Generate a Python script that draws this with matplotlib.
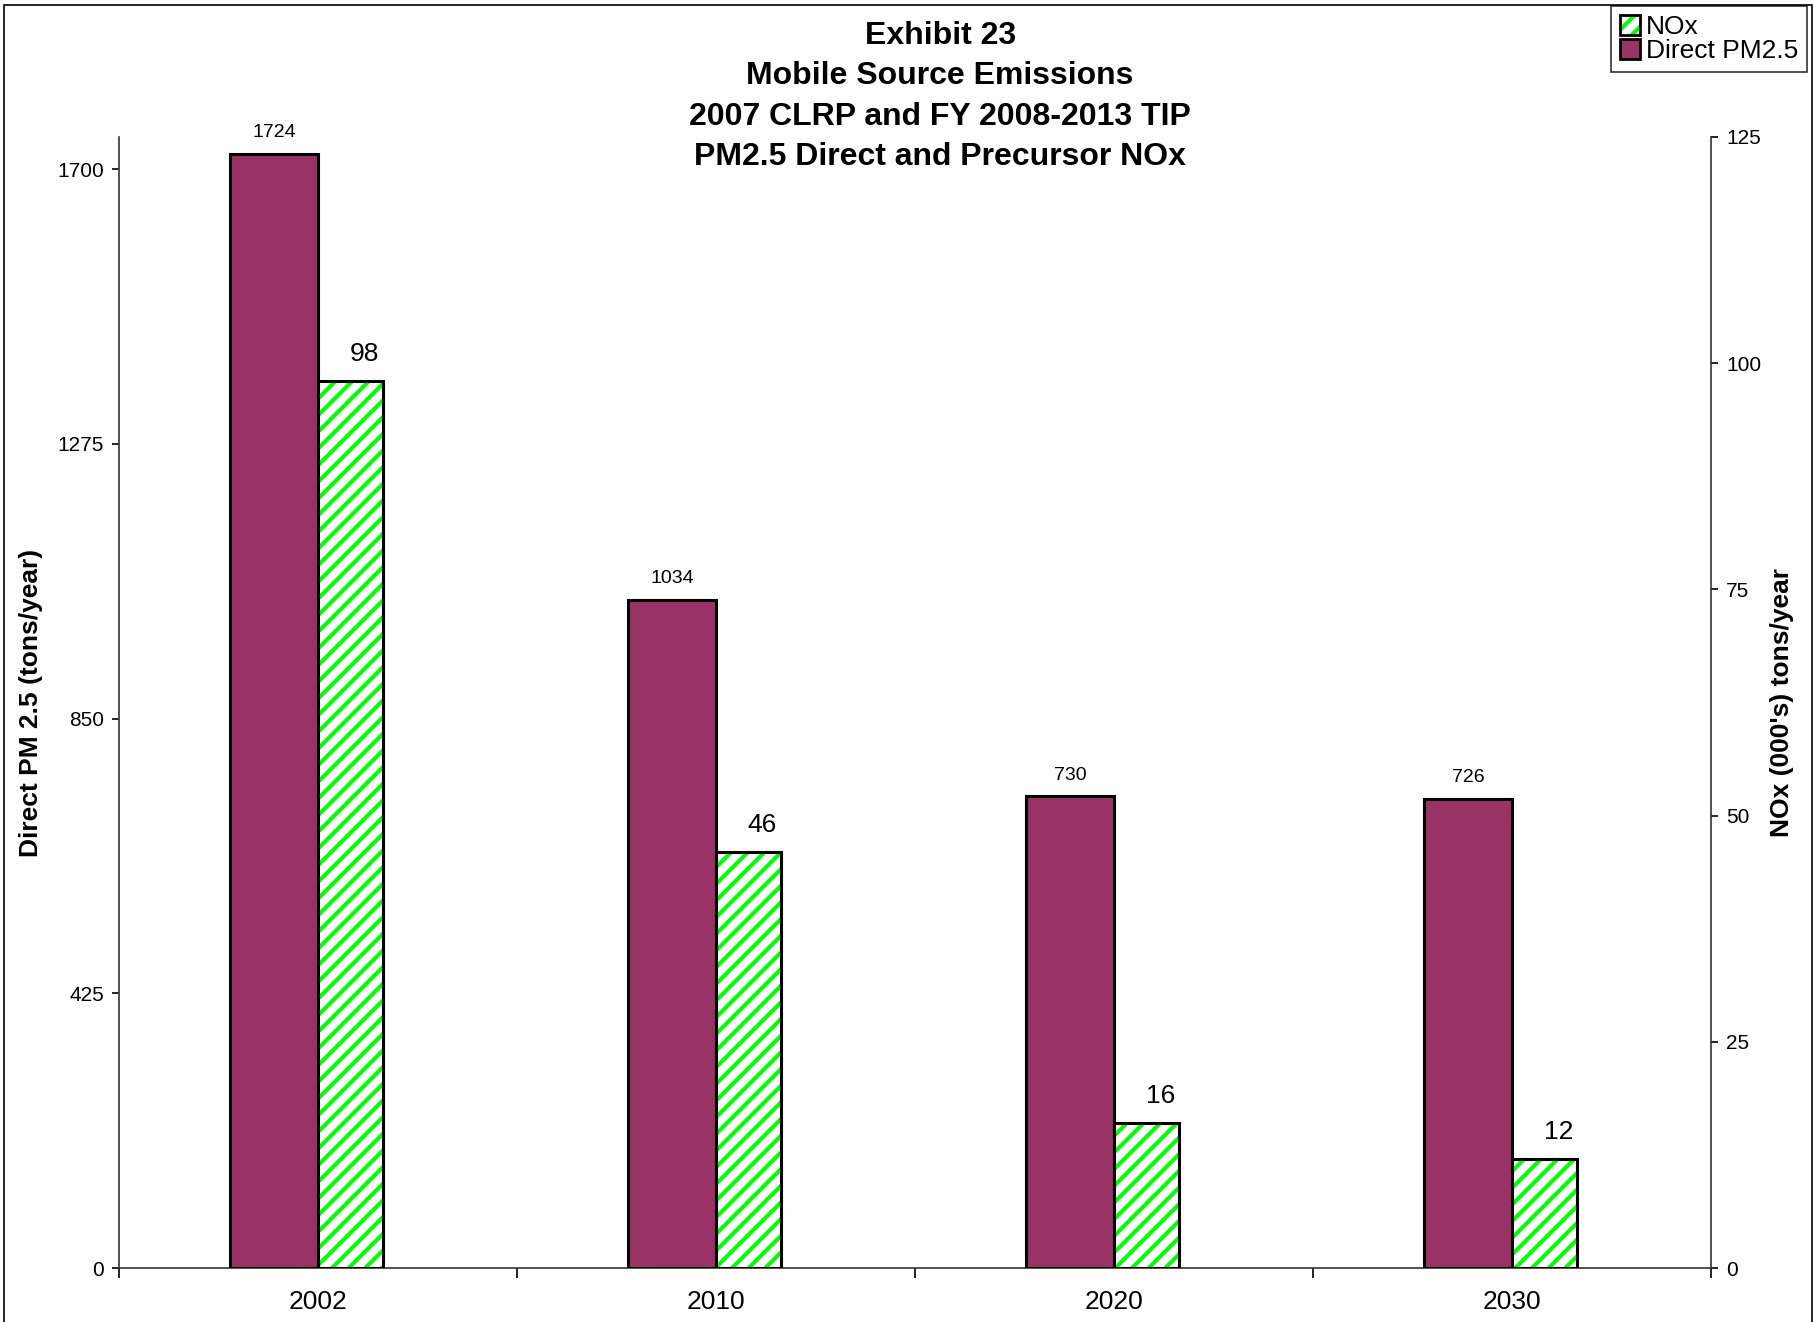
import matplotlib
matplotlib.use('Agg')
import matplotlib.pyplot as plt
import numpy as np
from matplotlib.patches import Patch, Rectangle
from matplotlib.legend_handler import HandlerTuple

plt.rcParams['font.family'] = ['Liberation Sans', 'DejaVu Sans']
plt.rcParams['hatch.linewidth'] = 2.9

years = ['2002', '2010', '2020', '2030']
pm25 = [1724, 1034, 730, 726]
nox = [98, 46, 16, 12]
left_ticks = [0, 425, 850, 1275, 1700]
right_ticks = [0, 25, 50, 75, 100, 125]
title_lines = ['Exhibit 23', 'Mobile Source Emissions',
               '2007 CLRP and FY 2008-2013 TIP', 'PM2.5 Direct and Precursor NOx']

purple = '#993366'
green = '#00FF00'

fig = plt.figure(figsize=(18.15, 13.22), dpi=100)
ax = fig.add_axes([0.0656, 0.0408, 0.8771, 0.8556])
ax2 = ax.twinx()

x = np.arange(len(years))
w_pm = 0.221
w_nox = 0.163

ax.bar(x - w_pm / 2, pm25, width=w_pm, color=purple,
       edgecolor='black', linewidth=2.2, zorder=3)
ax2.bar(x + w_nox / 2, nox, width=w_nox, color='white', edgecolor=green,
        hatch='//', linewidth=0, zorder=3)
ax2.bar(x + w_nox / 2, nox, width=w_nox, fill=False, edgecolor='black',
        linewidth=2.2, zorder=4)

for xi, v in zip(x, pm25):
    ax.annotate(str(v), (xi - w_pm / 2, v), xytext=(0, 9), textcoords='offset points',
                ha='center', va='bottom', fontsize=14)
for xi, v in zip(x, nox):
    ax2.annotate(str(v), (xi + w_nox / 2, v), xytext=(10, 11), textcoords='offset points',
                 ha='center', va='bottom', fontsize=19)

ax.set_xlim(-0.5, len(years) - 0.5)
ax.set_ylim(0, 1750)
ax2.set_ylim(0, 125)
ax.set_yticks(left_ticks)
ax2.set_yticks(right_ticks)
ax.set_xticks(x)
ax.set_xticklabels(years, fontsize=19)
ax.set_xticks(np.arange(-0.5, len(years)), minor=True)
ax.tick_params(axis='x', which='major', length=0, pad=16)
ax.tick_params(axis='x', which='minor', length=7, width=1.2, direction='out')
ax.tick_params(axis='y', length=5, width=1.2, labelsize=15, pad=6)
ax2.tick_params(axis='y', length=5, width=1.2, labelsize=15, pad=6)

for a in (ax, ax2):
    a.spines['top'].set_visible(False)
    for s in ('left', 'right', 'bottom'):
        a.spines[s].set_linewidth(1.2)
        a.spines[s].set_color('#333333')
ax.spines['right'].set_visible(False)
ax2.spines['left'].set_visible(False)
ax2.spines['bottom'].set_visible(False)

ax.set_ylabel('Direct PM 2.5 (tons/year)', fontsize=19, fontweight='bold', labelpad=10)
ax2.set_ylabel("NOx (000's) tons/year", fontsize=19, fontweight='bold', labelpad=6)

for i, line in enumerate(title_lines):
    fig.text(0.518, 0.973 - i * 0.0307, line, ha='center', va='center',
             fontsize=23, fontweight='bold')

# outer chart frame
fig.patches.append(Rectangle((0.002, -0.01), 0.9965, 1.006, transform=fig.transFigure,
                             fill=False, edgecolor='black', linewidth=1.2))

h_nox = (Patch(facecolor='white', edgecolor=green, hatch='//', linewidth=0),
         Patch(fill=False, edgecolor='black', linewidth=2))
h_pm = Patch(facecolor=purple, edgecolor='black', linewidth=2)
leg = fig.legend([h_nox, h_pm], ['NOx', 'Direct PM2.5'], loc='upper right',
                 bbox_to_anchor=(0.9956, 0.9955), fontsize=19, frameon=True,
                 fancybox=False, edgecolor='black', borderpad=0.35, labelspacing=0.0,
                 handlelength=0.75, handleheight=0.75, handletextpad=0.2,
                 borderaxespad=0, handler_map={tuple: HandlerTuple(ndivide=1, pad=0)})
leg.get_frame().set_linewidth(1.2)

fig.savefig('out.png', dpi=100)
